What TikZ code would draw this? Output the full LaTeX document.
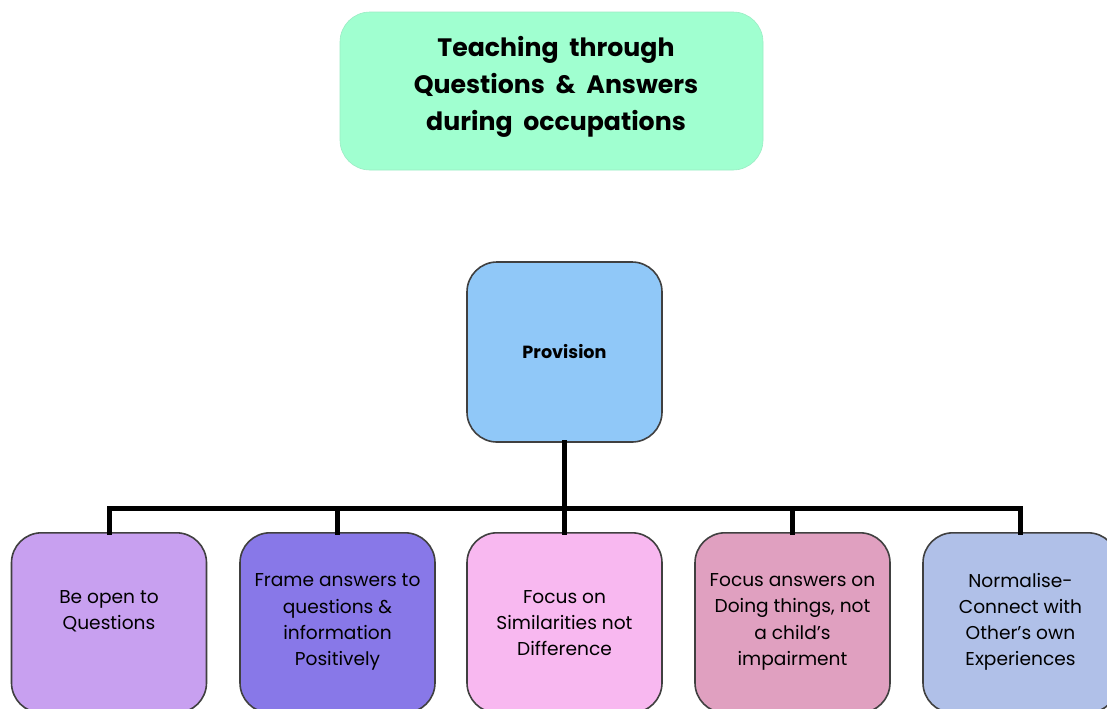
\documentclass[tikz,border=0pt]{standalone}
\usepackage{fontspec}
\setmainfont{Poppins}
\definecolor{mint}{HTML}{A0FFD0}
\definecolor{provblue}{HTML}{90C8F8}
\definecolor{lilac}{HTML}{C8A0F0}
\definecolor{violet}{HTML}{8878E8}
\definecolor{pinkish}{HTML}{F8B8F0}
\definecolor{rosy}{HTML}{E0A0C0}
\definecolor{paleblue}{HTML}{B0C0E8}
\definecolor{edge}{HTML}{404040}
\tikzset{
  titlebox/.style={rounded corners=15pt, fill=mint, draw=mint!85!gray, line width=0.3pt,
    minimum width=211.5pt, minimum height=79pt, inner sep=0pt},
  titletext/.style={align=center, font=\fontsize{12.6}{18.5}\selectfont\bfseries, inner sep=0pt},
  provbox/.style={rounded corners=15pt, fill=provblue, draw=edge, line width=0.8pt,
    minimum width=97.5pt, minimum height=90pt, align=center,
    font=\fontsize{8.8}{13}\selectfont\bfseries, inner sep=0pt},
  leafbox/.style={rounded corners=15pt, draw=edge, line width=0.8pt,
    minimum width=97.5pt, minimum height=90pt, anchor=north, inner sep=0pt},
  leaftext/.style={align=center, font=\fontsize{9.3}{13.1}\selectfont, inner sep=0pt},
  conn/.style={line width=2.5pt, line join=miter, line cap=rect}
}
\begin{document}
\begin{tikzpicture}[x=0.5pt,y=-0.5pt]
\clip (0,0) rectangle (1107,708);
\fill[white] (0,0) rectangle (1107,708);
\node[titlebox] (title) at (551.5,91) {};
\node[titletext] (ttext) at (556,87) {Teaching\ \ through\\Questions\ \ \&\ \ Answers\\during\ \ occupations};
\node[provbox] (prov) at (564.5,352) {Provision};
\coordinate (bar) at (564.5,508);
\node[leafbox, fill=lilac] (b1) at (109,532) {};
\node[leafbox, fill=violet] (b2) at (337.5,532) {};
\node[leafbox, fill=pinkish] (b3) at (564.5,532) {};
\node[leafbox, fill=rosy] (b4) at (792.5,532) {};
\node[leafbox, fill=paleblue] (b5) at (1020.5,532) {};
\node[leaftext] (t1) at (109,611) {Be open to\\Questions};
\node[leaftext] (t2) at (337.5,622) {Frame answers to\\questions \&\\information\\Positively};
\node[leaftext] (t3) at (564.5,623) {Focus on\\Similarities not\\Difference};
\node[leaftext] (t4) at (792.5,622) {Focus answers on\\Doing things, not\\a child’s\\impairment};
\node[leaftext] (t5) at (1020.5,622) {Normalise-\\Connect with\\Other’s own\\Experiences};
\draw[conn] (prov.south) -- (prov.south |- bar);
\draw[conn] (b1.north) -- (b1.north |- bar) -- (b5.north |- bar) -- (b5.north);
\draw[conn] (b2.north) -- (b2.north |- bar);
\draw[conn] (b3.north) -- (b3.north |- bar);
\draw[conn] (b4.north) -- (b4.north |- bar);
\end{tikzpicture}
\end{document}
